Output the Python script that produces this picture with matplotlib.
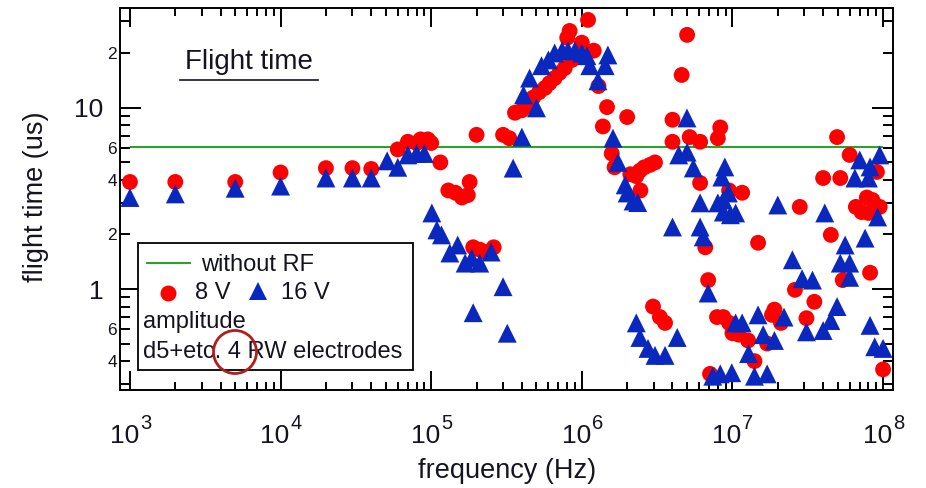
import matplotlib
matplotlib.use("Agg")
import matplotlib.pyplot as plt
from matplotlib.lines import Line2D
from matplotlib.patches import Rectangle, Ellipse
from matplotlib.ticker import FixedLocator, FuncFormatter, NullFormatter

plt.rcParams['font.family'] = ['Liberation Sans', 'DejaVu Sans']

# ---------------- data ----------------
# 8 V amplitude (red circles): frequency (Hz), flight time (us)
f8 = [1e3, 2e3, 5e3, 1e4, 2e4, 3e4, 4e4,
      6e4, 7e4, 8e4, 8.5e4, 9.5e4, 1e5,
      1.15e5, 1.3e5, 1.45e5, 1.6e5, 1.75e5, 1.8e5,
      1.9e5, 2.1e5, 2.3e5, 2.6e5,
      2.0e5, 3.0e5, 3.3e5,
      3.6e5, 4.0e5, 4.4e5, 4.75e5, 5.2e5, 5.7e5, 6.1e5, 6.6e5, 7.1e5, 7.7e5, 8.6e5,
      8.0e5, 8.3e5, 1.1e6, 1.0e6, 1.2e6, 1.29e6, 1.47e6, 2.0e6, 1.38e6, 1.58e6, 1.65e6,
      2.1e6, 2.3e6, 2.43e6, 2.6e6, 2.84e6, 3.06e6, 2.45e6,
      4.0e6, 5.2e6, 4.0e6, 6.1e6, 8.3e6, 8.0e6, 6.1e6, 9.5e6, 1.16e7,
      5.0e6, 4.6e6,
      1.48e7, 6.6e6, 6.9e6,
      2.97e6, 3.3e6, 3.57e6,
      7.9e6, 8.7e6, 9.5e6, 1.0e7, 1.1e7, 1.27e7, 1.4e7,
      1.83e7, 1.9e7, 2.1e7, 1.7e7, 7.1e6,
      2.6e7, 2.8e7, 3.5e7, 3.1e7, 5.4e7, 8.2e7, 4.5e7,
      4.95e7, 6.0e7, 4.0e7, 5.2e7, 9.1e7,
      6.6e7, 7.8e7, 8.5e7, 9.5e7, 7.2e7, 8.0e7, 1.0e8]
t8 = [3.9, 3.9, 3.9, 4.4, 4.65, 4.65, 4.6,
      5.9, 6.5, 6.4, 6.7, 6.7, 6.4,
      5.0, 3.5, 3.4, 3.2, 3.3, 3.9,
      1.7, 1.65, 1.6, 1.7,
      7.1, 7.1, 6.8,
      9.4, 9.7, 10.4, 11.4, 12.2, 12.9, 13.7, 14.6, 15.6, 16.6, 18.4,
      24.4, 26.6, 30.6, 22.9, 20.7, 13.2, 10.1, 8.9, 7.9, 5.6, 4.7,
      4.3, 4.2, 4.5, 4.7, 4.85, 5.0, 3.5,
      8.6, 6.9, 6.5, 6.5, 7.8, 6.8, 3.85, 3.5, 3.4,
      25.3, 15.2,
      1.8, 1.7, 1.12,
      0.8, 0.7, 0.65,
      0.7, 0.7, 0.65, 0.57, 0.56, 0.52, 0.40,
      0.72, 0.77, 0.65, 0.5, 0.34,
      0.99, 2.84, 0.85, 0.69, 1.12, 1.23, 1.99,
      6.9, 5.5, 4.1, 4.1, 4.43,
      2.84, 3.2, 3.1, 2.84, 2.66, 2.63, 0.36]

# 16 V amplitude (blue triangles)
f16 = [1e3, 2e3, 5e3, 1e4, 2e4, 3e4, 4e4,
       5.1e4, 6e4, 7e4, 8e4, 9e4,
       1.01e5, 1.09e5, 1.17e5, 1.33e5, 1.5e5, 1.68e5, 1.86e5, 2.1e5, 2.5e5,
       3.0e5, 1.9e5, 3.2e5,
       3.5e5, 4.0e5,
       4.1e5, 4.5e5, 5.0e5, 5.4e5, 6.0e5, 6.6e5, 7.4e5, 8.1e5, 9.0e5, 1.0e6, 1.08e6,
       1.13e6, 1.43e6, 1.49e6, 1.28e6,
       1.61e6, 1.74e6, 1.94e6, 2.0e6, 2.19e6, 2.35e6,
       2.3e6, 2.43e6, 2.75e6, 3.06e6, 3.57e6, 4.3e6,
       4.99e6, 4.4e6, 5.0e6, 5.5e6,
       8.9e6, 8.5e6, 6.1e6, 8.7e6, 8.0e6, 8.7e6, 9.7e6, 9.4e6, 1.05e7,
       4.0e6, 6.1e6, 6.4e6, 6.9e6,
       1.05e7, 1.16e7, 1.48e7, 2.2e7, 1.6e7, 1.9e7, 1.28e7,
       7.4e6, 8.3e6, 9.9e6, 1.4e7, 1.7e7,
       2.0e7, 2.5e7,
       7.0e7, 9.5e7, 8.2e7, 6.5e7, 8.0e7, 9.2e7,
       4.1e7, 5.6e7, 7.6e7, 5.2e7, 6.0e7, 6.0e7,
       2.9e7, 3.4e7,
       4.95e7, 4.5e7, 3.1e7, 4.0e7, 8.2e7, 8.8e7, 1.0e8]
t16 = [3.2, 3.35, 3.6, 3.7, 4.1, 4.1, 4.1,
       5.1, 4.7, 5.5, 5.6, 5.6,
       2.63, 2.12, 1.99, 1.58, 1.75, 1.39, 1.48, 1.39, 1.6,
       1.03, 0.74, 0.57,
       4.65, 6.9,
       11.8, 14.6, 10.0, 17.1, 18.4, 20.1, 20.7, 20.7, 20.7, 20.1, 19.4,
       17.1, 17.1, 19.6, 14.1,
       6.8, 5.0, 3.76, 3.39, 3.06, 3.0,
       0.65, 0.54, 0.47, 0.43, 0.43, 0.54,
       8.8, 5.5, 5.7, 4.66,
       4.72, 4.15, 2.99, 3.1, 2.99, 2.66, 2.57, 3.39, 2.63,
       2.2, 2.2, 1.94, 0.95,
       0.65, 0.65, 0.72, 0.70, 0.56, 0.52, 0.44,
       0.33, 0.34, 0.345, 0.33, 0.34,
       2.91, 1.45,
       5.16, 5.5, 4.72, 4.1, 4.1, 2.5,
       2.63, 1.75, 1.91, 1.39, 1.39, 1.16,
       1.14, 1.12,
       0.80, 0.67, 0.58, 0.59, 0.63, 0.48, 0.47]

without_rf_time = 6.1          # us, reference line
line_f_range = [1e3, 1e8]

x_major = [1e3, 1e4, 1e5, 1e6, 1e7, 1e8]
x_exponents = ['3', '4', '5', '6', '7', '8']
y_major = [1, 10]
y_major_labels = ['1', '10']
y_minor_labeled = {0.4: '4', 0.6: '6', 2: '2', 4: '4', 6: '6', 20: '2'}

# ---------------- figure ----------------
W, H = 926, 488
fig = plt.figure(figsize=(W / 100, H / 100), dpi=100)
ax = fig.add_axes([120 / W, 1 - 390 / H, (893 - 120) / W, (390 - 8) / H])

red = '#FF0000'
blue = '#0A28BE'
green = '#1FA51F'
txt = '#141420'

ax.hlines(without_rf_time, line_f_range[0], line_f_range[1], color=green, lw=1.4, zorder=2)
ax.scatter(f8, t8, s=130, marker='o', color=red, edgecolors='none', zorder=3)
ax.scatter(f16, t16, s=185, marker='^', color=blue, edgecolors='none', zorder=4)

ax.set_xscale('log')
ax.set_yscale('log')
ax.set_xlim(10 ** 2.934, 10 ** 8.066)
ax.set_ylim(0.277, 35.6)

# x ticks (labels drawn as "10" + superscript exponent below)
ax.xaxis.set_major_locator(FixedLocator(x_major))
ax.xaxis.set_major_formatter(NullFormatter())
xminor = [m * 10 ** d for d in range(3, 8) for m in range(2, 10)]
ax.xaxis.set_minor_locator(FixedLocator(xminor))
ax.xaxis.set_minor_formatter(NullFormatter())
for xv, ex in zip(x_major, x_exponents):
    ax.annotate('10', xy=(xv, 0), xycoords=('data', 'axes fraction'),
                xytext=(9, -53), textcoords='offset pixels',
                ha='right', va='baseline', fontsize=19, color=txt, annotation_clip=False)
    ax.annotate(ex, xy=(xv, 0), xycoords=('data', 'axes fraction'),
                xytext=(10, -39), textcoords='offset pixels',
                ha='left', va='baseline', fontsize=14.5, color=txt, annotation_clip=False)

# y ticks
ax.yaxis.set_major_locator(FixedLocator(y_major))
ax.set_yticklabels(y_major_labels)
yminor = [m * 10 ** d for d in (-1, 0, 1) for m in range(2, 10) if m * 10 ** d < 35]
ax.yaxis.set_minor_locator(FixedLocator(yminor))


def minor_fmt(v, pos):
    for k, s in y_minor_labeled.items():
        if abs(v - k) / k < 1e-6:
            return s
    return ''


ax.yaxis.set_minor_formatter(FuncFormatter(minor_fmt))

ax.tick_params(which='both', direction='in', top=True, right=True, colors='black',
               labelcolor=txt, width=1.4)
ax.tick_params(axis='x', which='major', length=14)
ax.tick_params(axis='x', which='minor', length=6)
ax.tick_params(axis='y', which='major', length=15, pad=12, labelsize=19)
ax.tick_params(axis='y', which='minor', length=7, pad=2, labelsize=12.5)

for sp in ax.spines.values():
    sp.set_linewidth(1.4)

ax.set_xlabel('frequency (Hz)', fontsize=19.5, color=txt, va='center')
ax.xaxis.set_label_coords((507 - 120) / 773, (390 - 471) / 382)
ax.set_ylabel('flight time (us)', fontsize=19.5, color=txt, va='center')
ax.yaxis.set_label_coords((36 - 120) / 773, (390 - 197) / 382)

# title text with underline
fig.text(249 / W, 1 - 62 / H, 'Flight time', fontsize=20, color=txt, ha='center', va='center')
fig.add_artist(Line2D([180 / W, 318 / W], [1 - 80 / H, 1 - 80 / H], color=txt, lw=1.2))

# legend box (manual)
fig.add_artist(Rectangle((138 / W, 1 - 370 / H), (413 - 138) / W, (370 - 243) / H,
                         fill=True, facecolor='white', edgecolor='black', lw=1.3, zorder=5))
fig.add_artist(Line2D([147 / W, 190 / W], [1 - 263 / H, 1 - 263 / H], color=green, lw=1.4, zorder=6))
fig.text(201 / W, 1 - 265 / H, 'without RF', fontsize=17, color=txt, ha='left', va='center', zorder=6)
fig.add_artist(Line2D([168 / W], [1 - 293 / H], marker='o', markersize=11.5, color=red,
                      markeredgewidth=0, linestyle='none', zorder=6))
fig.text(195 / W, 1 - 293 / H, '8 V', fontsize=17, color=txt, ha='left', va='center', zorder=6)
fig.add_artist(Line2D([258 / W], [1 - 291 / H], marker='^', markersize=13.5, color=blue,
                      markeredgewidth=0, linestyle='none', zorder=6))
fig.text(281 / W, 1 - 293 / H, '16 V', fontsize=17, color=txt, ha='left', va='center', zorder=6)
fig.text(143 / W, 1 - 322 / H, 'amplitude', fontsize=17, color=txt, ha='left', va='center', zorder=6)
fig.text(143 / W, 1 - 352 / H, 'd5+etc. 4 RW electrodes', fontsize=17, color=txt,
         ha='left', va='center', zorder=6)
fig.add_artist(Ellipse((235 / W, 1 - 352 / H), 43 / W, 43 / H, fill=False,
                       edgecolor='#B01E1E', lw=2.0, zorder=7))

fig.savefig('out.png', dpi=100)
